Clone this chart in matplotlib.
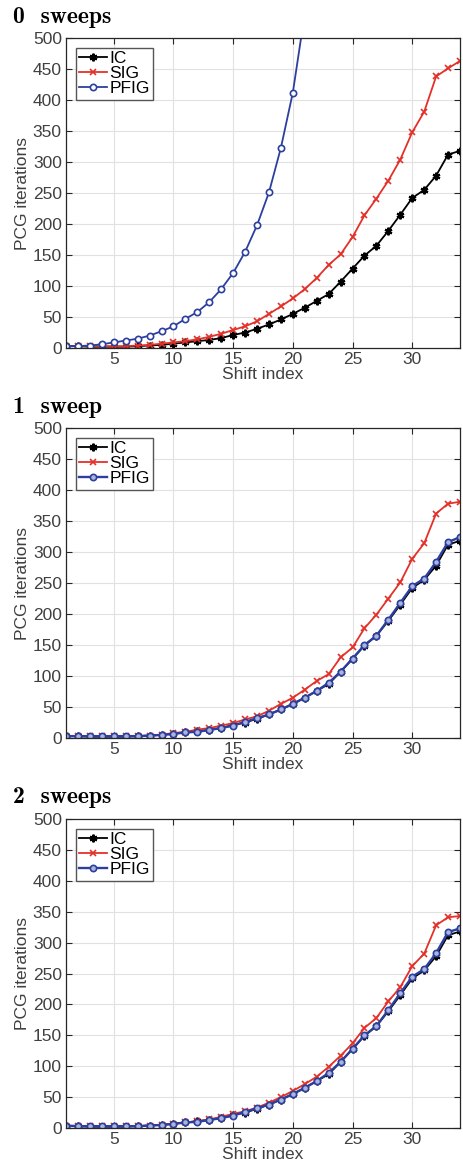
import matplotlib

matplotlib.use("Agg")
import matplotlib.pyplot as plt
import numpy as np

plt.rcParams["font.family"] = ["Liberation Sans", "DejaVu Sans"]

SHIFTS = np.arange(1, 35)

IC = [3, 3, 2, 2, 2, 2, 3, 4, 5, 7, 9, 11, 13, 16, 21, 25, 31, 38, 46, 55,
      65, 76, 87, 107, 128, 149, 165, 189, 215, 242, 255, 278, 312, 318]

SIG_0 = [3, 3, 3, 3, 3, 3, 4, 5, 7, 9, 11, 14, 18, 23, 29, 35, 43, 55, 67, 80,
         95, 113, 134, 151, 179, 214, 241, 270, 304, 348, 381, 438, 451, 463]
PFIG_0 = [3, 3, 4, 6, 9, 12, 15, 20, 27, 35, 47, 58, 74, 95, 121, 155, 198,
          251, 323, 412, 540]

SIG_1 = [3, 3, 3, 3, 3, 3, 3, 3, 5.5, 8, 10, 13.5, 16, 20, 24, 30, 35, 44, 55,
         65, 78, 92, 103, 130, 146, 177, 199, 225, 251, 289, 314, 362, 378, 381]
PFIG_1 = [3, 3, 3, 3, 3, 3, 3, 4, 5, 6.5, 9, 10, 13, 16, 20, 26, 32, 38, 46,
          55, 65, 76, 89, 107, 128, 150, 165, 191, 218, 245, 257, 284, 316, 324]

SIG_2 = [3, 3, 3, 3, 3, 3, 3, 4, 5, 7, 9, 11, 14, 18, 23, 27, 33, 41, 50, 60,
         71, 83, 99, 117, 137, 162, 178, 205, 228, 262, 282, 328, 341, 343]
PFIG_2 = [4, 3, 3, 3, 3, 3, 3, 4, 5, 6.5, 9, 10, 13, 16, 20, 26, 32, 38, 46,
          55, 65, 76, 89, 107, 128, 150, 165, 191, 218, 245, 257, 283, 317, 323]

TITLES = ["0 sweeps", "1 sweep", "2 sweeps"]
PANELS = [(SIG_0, PFIG_0), (SIG_1, PFIG_1), (SIG_2, PFIG_2)]
X_TICKS = [5, 10, 15, 20, 25, 30]
Y_TICKS = np.arange(0, 501, 50)

RED = "#e3312a"
BLUE = "#2c3f9e"
AXIS_GRAY = "#262626"
LABEL_GRAY = "#404040"

W, H = 463, 1169
# (top, bottom) of each axes box in pixels
BOXES = [(38, 348), (428, 738), (819, 1128)]
TITLE_BASELINES = [23, 413, 803]
LEFT, RIGHT = 66, 460

fig = plt.figure(figsize=(W / 100, H / 100), dpi=100)

for idx, ((sig, pfig), title) in enumerate(zip(PANELS, TITLES)):
    top, bottom = BOXES[idx]
    ax = fig.add_axes([LEFT / W, 1 - bottom / H, (RIGHT - LEFT) / W, (bottom - top) / H])

    ax.plot(SHIFTS[:len(IC)], IC, color="black", lw=1.3, marker=(6, 2, 0),
            ms=5.5, mew=1.6, label="IC")
    ax.plot(SHIFTS[:len(sig)], sig, color=RED, lw=1.3, marker="x",
            ms=4.5, mew=1.2, label="SIG")
    face = "white" if idx == 0 else "#aab4dc"
    ax.plot(SHIFTS[:len(pfig)], pfig, color=BLUE, lw=1.3 if idx == 0 else 1.7,
            marker="o", ms=4.5, mew=1.2, mfc=face, label="PFIG")

    ax.set_xlim(1, 34)
    ax.set_ylim(0, 500)
    ax.set_xticks(X_TICKS)
    ax.set_yticks(Y_TICKS)
    ax.grid(True, color="#e1e1e1", lw=0.8)
    ax.set_axisbelow(True)
    ax.tick_params(direction="in", top=True, right=True, length=4,
                   labelsize=12.5, colors=AXIS_GRAY, labelcolor=LABEL_GRAY, pad=3)
    for spine in ax.spines.values():
        spine.set_color(AXIS_GRAY)
        spine.set_linewidth(0.9)
    ax.set_xlabel("Shift index", fontsize=12.5, color=LABEL_GRAY, labelpad=0)
    ax.set_ylabel("PCG iterations", fontsize=12.5, color=LABEL_GRAY, labelpad=2)

    leg = ax.legend(loc="upper left", fontsize=12.5, fancybox=False, framealpha=1,
                    edgecolor="#555555", handlelength=1.6, handletextpad=0.15,
                    labelspacing=0.0, borderpad=0.2, borderaxespad=0.55)
    leg.get_frame().set_linewidth(1.0)

    fig.text(13 / W, 1 - TITLE_BASELINES[idx] / H, title.replace(" ", "  "),
             fontfamily="cmb10", fontsize=17, va="baseline", ha="left",
             color="black")

fig.savefig("out.png", dpi=100)
